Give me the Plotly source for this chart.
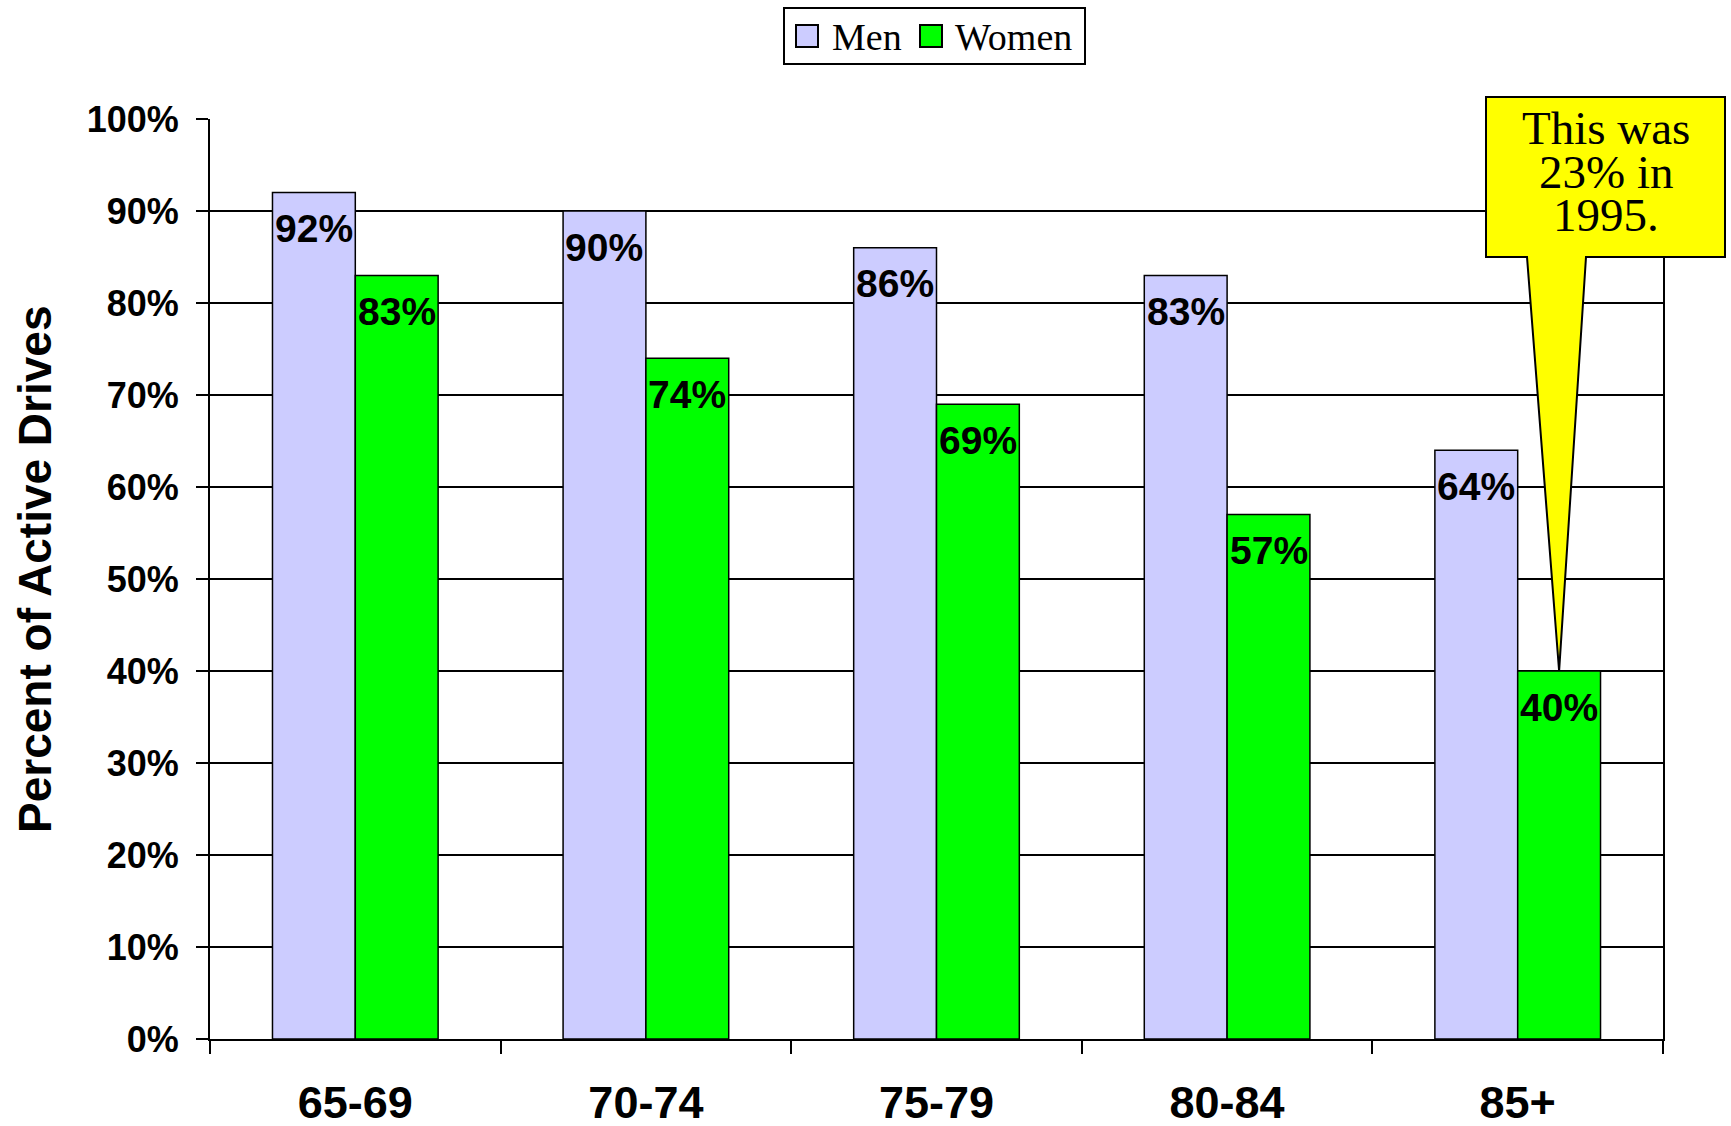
import plotly.graph_objects as go

# Share of older adults who are active drivers, by age group and sex
age_groups = ["65-69", "70-74", "75-79", "80-84", "85+"]
men = [92, 90, 86, 83, 64]
women = [83, 74, 69, 57, 40]
series_names = ["Men", "Women"]
y_ticks = [0, 10, 20, 30, 40, 50, 60, 70, 80, 90, 100]
y_tick_labels = [f"{v}%" for v in y_ticks]
callout_lines = ["This was", "23% in", "1995."]

MEN_COLOR = "#CCCCFF"
WOMEN_COLOR = "#00FF00"
SANS = "Liberation Sans, Arial, sans-serif"
SERIF = "Liberation Serif, Times New Roman, serif"

W, H = 1731, 1126
ML, MR, MT, MB = 210, 68, 119, 87
PW, PH = W - ML - MR, H - MT - MB
BOTTOM = H - MB


def px(x):
    """Pixel column -> paper x."""
    return (x - ML) / PW


def py(y):
    """Pixel row -> paper y."""
    return (BOTTOM - y) / PH


BARGAP = 0.43
half = (1 - BARGAP) / 4  # centre offset of each bar within its group

fig = go.Figure()
fig.add_trace(go.Bar(x=age_groups, y=men, name=series_names[0],
                     marker=dict(color=MEN_COLOR, line=dict(color="black", width=1.5))))
fig.add_trace(go.Bar(x=age_groups, y=women, name=series_names[1],
                     marker=dict(color=WOMEN_COLOR, line=dict(color="black", width=1.5))))

annotations = []
# value labels just inside the top of each bar
for i, (m, w) in enumerate(zip(men, women)):
    for val, off in ((m, -half), (w, half)):
        annotations.append(dict(
            x=i + off, y=val, xref="x", yref="y", text=f"{val}%",
            showarrow=False, yshift=-36, yanchor="middle", xanchor="center",
            font=dict(family=SANS, size=39, color="black", weight="bold")))

# y-axis title
annotations.append(dict(
    x=px(35), y=py(569), xref="paper", yref="paper",
    text="Percent of Active Drives", textangle=-90, showarrow=False,
    xanchor="center", yanchor="middle",
    font=dict(family=SANS, size=46, color="black", weight="bold")))

# callout text
for line, yy in zip(callout_lines, (128, 172, 215)):
    annotations.append(dict(
        x=px(1606), y=py(yy), xref="paper", yref="paper", text=line,
        showarrow=False, xanchor="center", yanchor="middle",
        font=dict(family=SERIF, size=47, color="black")))

# legend entries
legend_items = [(series_names[0], MEN_COLOR, 796, 830),
                (series_names[1], WOMEN_COLOR, 920, 953)]
shapes = [dict(type="rect", xref="paper", yref="paper",
               x0=px(784), x1=px(1085), y0=py(64), y1=py(8),
               fillcolor="white", line=dict(color="black", width=2), layer="above")]
for name, color, sx, tx in legend_items:
    shapes.append(dict(type="rect", xref="paper", yref="paper",
                       x0=px(sx), x1=px(sx + 22), y0=py(47), y1=py(25),
                       fillcolor=color, line=dict(color="black", width=2), layer="above"))
    annotations.append(dict(
        x=px(tx), y=py(37), xref="paper", yref="paper", text=name,
        showarrow=False, xanchor="left", yanchor="middle",
        font=dict(family=SERIF, size=38, color="black")))

# callout balloon pointing at the top of the 85+ women bar
tip_x = px(ML + (len(age_groups) - 1 + 0.5 + half) * PW / len(age_groups))
tip_y = women[-1] / 100
bx0, bx1, by0, by1 = px(1486), px(1725), py(257), py(97)
pb0, pb1 = px(1527), px(1586)
path = (f"M {bx0},{by1} L {bx1},{by1} L {bx1},{by0} L {pb1},{by0} "
        f"L {tip_x},{tip_y} L {pb0},{by0} L {bx0},{by0} Z")
shapes.append(dict(type="path", xref="paper", yref="paper", path=path,
                   fillcolor="#FFFF00", line=dict(color="black", width=2),
                   layer="above"))

fig.update_layout(
    width=W, height=H,
    margin=dict(l=ML, r=MR, t=MT, b=MB, pad=0, autoexpand=False),
    paper_bgcolor="white", plot_bgcolor="white",
    barmode="group", bargap=BARGAP, bargroupgap=0,
    showlegend=False,
    annotations=annotations, shapes=shapes,
    xaxis=dict(
        type="category", automargin=False,
        showline=True, linecolor="black", linewidth=2,
        ticks="outside", tickson="boundaries", ticklen=13, tickwidth=2,
        tickcolor="black", showgrid=False, ticklabelstandoff=23,
        tickfont=dict(family=SANS, size=45, color="black", weight="bold")),
    yaxis=dict(
        range=[0, 100], tickvals=y_ticks, ticktext=y_tick_labels,
        automargin=False,
        showline=True, mirror=True, linecolor="black", linewidth=2,
        ticks="outside", ticklen=12, tickwidth=2, tickcolor="black",
        showgrid=True, gridcolor="black", gridwidth=2, zeroline=False,
        ticklabelstandoff=10,
        tickfont=dict(family=SANS, size=36, color="black", weight="bold")),
)

fig.write_html("out.html")
